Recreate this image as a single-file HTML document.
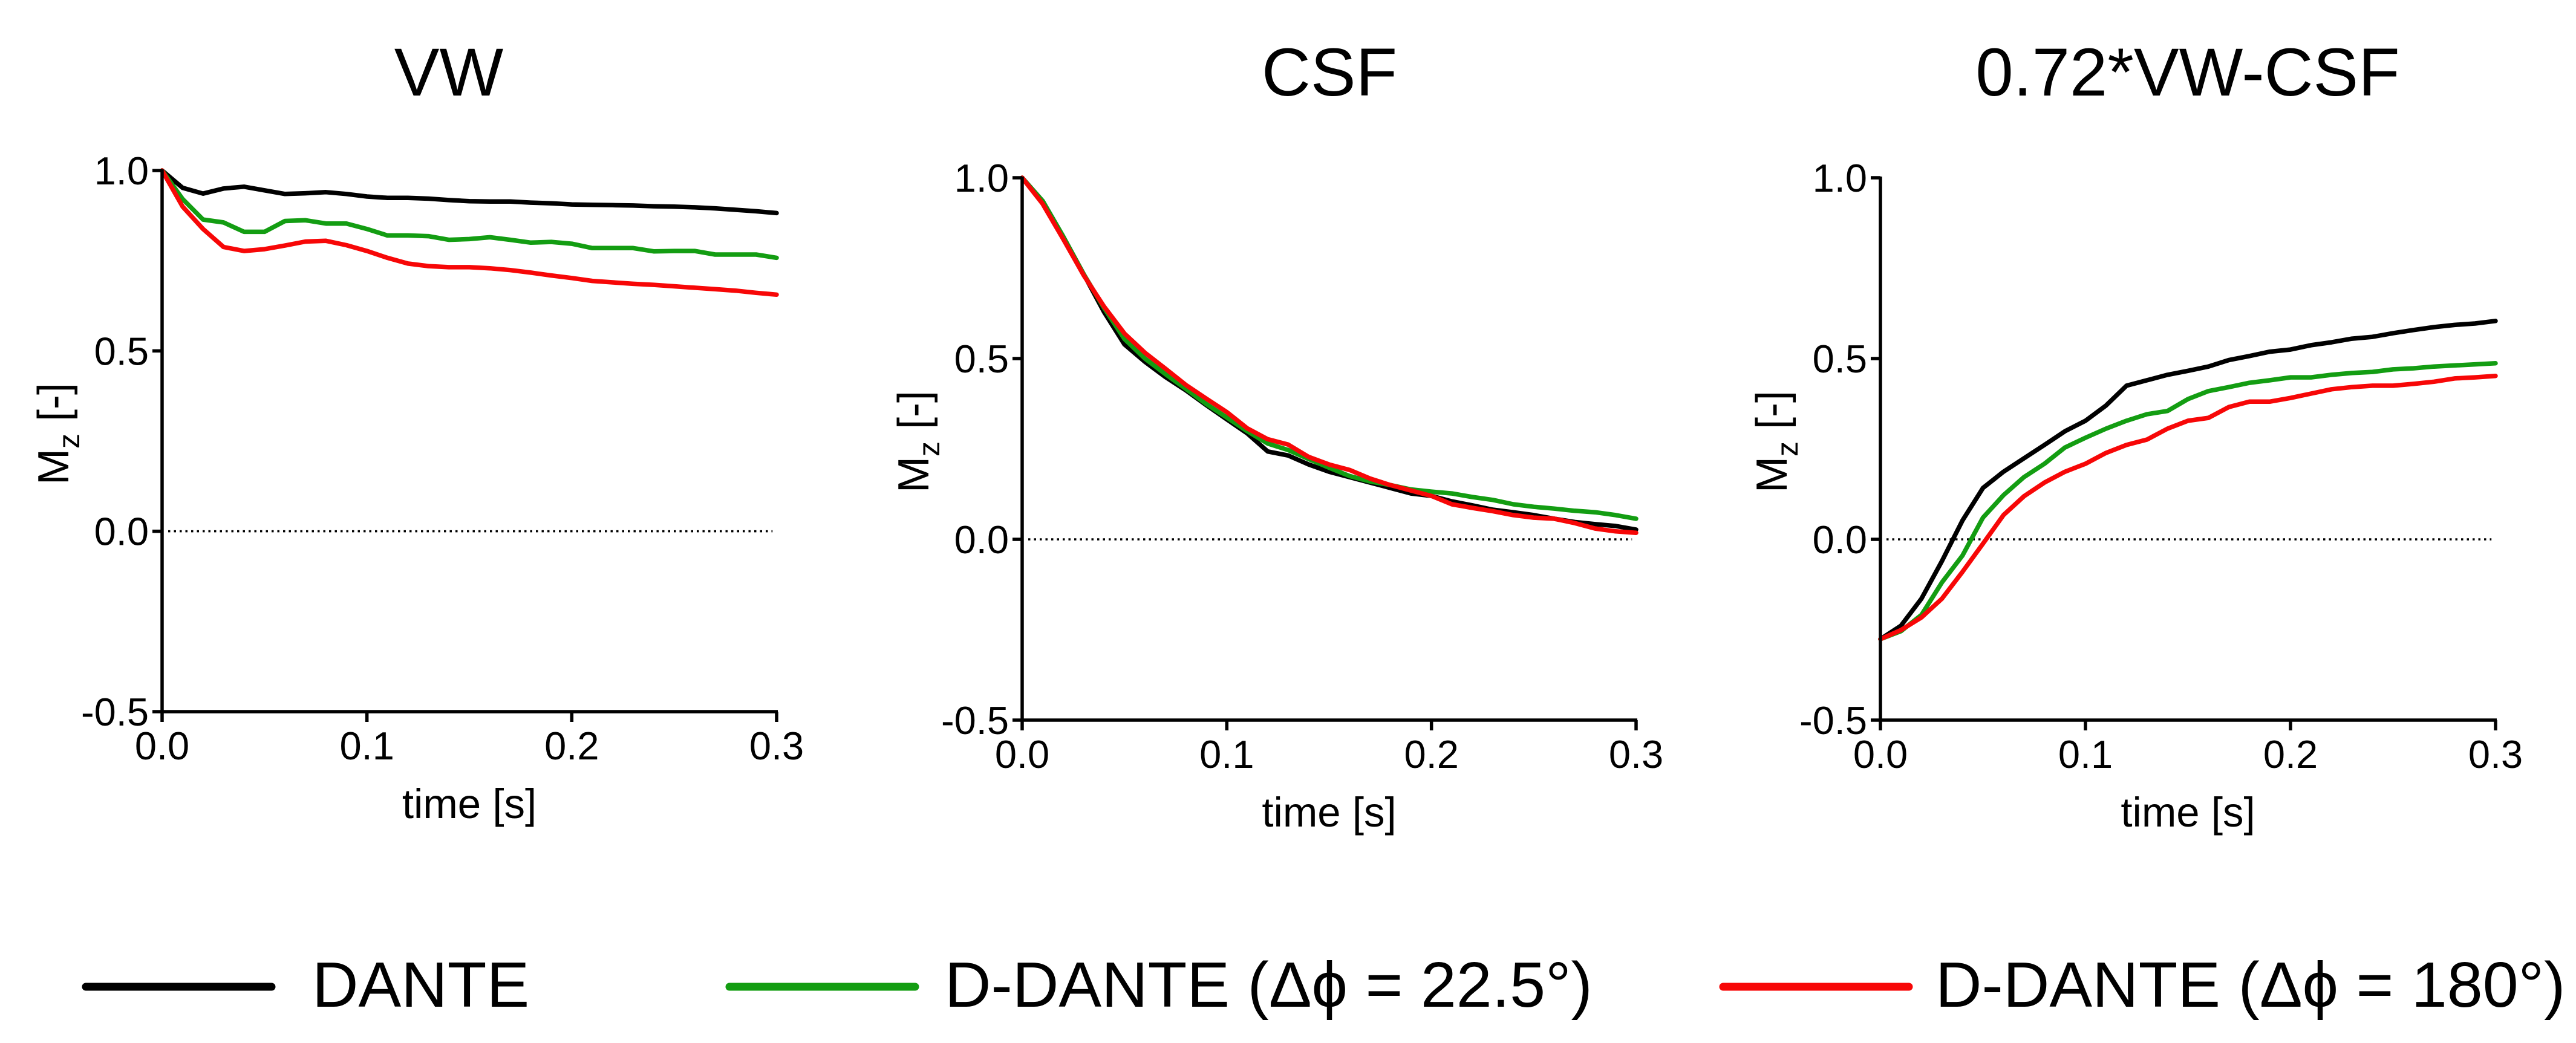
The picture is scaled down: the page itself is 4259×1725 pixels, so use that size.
<!DOCTYPE html>
<html><head><meta charset="utf-8">
<style>
html,body{margin:0;padding:0;background:#fff;}
svg{display:block;font-family:"Liberation Sans",Arial,sans-serif;}
</style></head>
<body>
<svg id="fig" width="4259" height="1725" viewBox="0 0 4259 1725" xmlns="http://www.w3.org/2000/svg">
<g id="panels"></g>
<g id="legend">
  <g>
    <line x1="142" y1="1632" x2="449" y2="1632" stroke="#000" stroke-width="13" stroke-linecap="round"/>
    <text x="516" y="1665" font-size="106">DANTE</text>
  </g>
  <g>
    <line x1="1206" y1="1632" x2="1513" y2="1632" stroke="#139d12" stroke-width="13" stroke-linecap="round"/>
    <text x="1562" y="1665" font-size="106">D-DANTE (Δϕ = 22.5°)</text>
  </g>
  <g>
    <line x1="2849" y1="1632" x2="3156" y2="1632" stroke="#f70707" stroke-width="13" stroke-linecap="round"/>
    <text x="3200" y="1665" font-size="106">D-DANTE (Δϕ = 180°)</text>
  </g>
</g>
</svg>
<script>
const times = [0,0.01,0.02,0.03,0.04,0.05,0.06,0.07,0.08,0.09,0.1,0.11,0.12,0.13,0.14,0.15,0.16,0.17,0.18,0.19,0.2,0.21,0.22,0.23,0.24,0.25,0.26,0.27,0.28,0.29,0.3];
const xTicks = [0,0.1,0.2,0.3];
const xTickLabels = ["0.0","0.1","0.2","0.3"];
const yTicks = [-0.5,0,0.5,1.0];
const yTickLabels = ["-0.5","0.0","0.5","1.0"];
const panelTitles = ["VW","CSF","0.72*VW-CSF"];
const seriesNames = ["DANTE","D-DANTE 22.5","D-DANTE 180"];

const vwDante = [1.0,0.952,0.936,0.95,0.955,0.945,0.935,0.937,0.94,0.935,0.928,0.924,0.924,0.922,0.918,0.915,0.914,0.914,0.911,0.909,0.906,0.905,0.904,0.903,0.901,0.9,0.898,0.895,0.891,0.887,0.882];
const vwD22 = [1.0,0.921,0.864,0.856,0.83,0.83,0.86,0.862,0.853,0.853,0.838,0.82,0.82,0.818,0.808,0.81,0.815,0.808,0.8,0.802,0.797,0.785,0.785,0.785,0.776,0.777,0.777,0.767,0.767,0.767,0.758];
const vwD180 = [1.0,0.9,0.838,0.788,0.777,0.782,0.792,0.803,0.805,0.793,0.777,0.758,0.742,0.735,0.732,0.732,0.729,0.724,0.717,0.709,0.702,0.694,0.69,0.686,0.683,0.679,0.675,0.671,0.667,0.661,0.656];

const csfDante = [1.0,0.936,0.838,0.734,0.629,0.539,0.491,0.449,0.412,0.371,0.332,0.293,0.243,0.232,0.207,0.187,0.172,0.157,0.142,0.127,0.12,0.105,0.094,0.082,0.075,0.067,0.057,0.048,0.042,0.037,0.027];
const csfD22 = [1.0,0.936,0.838,0.734,0.64,0.554,0.5,0.457,0.416,0.374,0.337,0.299,0.265,0.247,0.222,0.198,0.175,0.16,0.15,0.138,0.132,0.127,0.117,0.109,0.097,0.09,0.085,0.079,0.075,0.067,0.057];
const csfD180 = [1.0,0.928,0.831,0.731,0.644,0.569,0.516,0.472,0.427,0.389,0.352,0.307,0.277,0.262,0.228,0.207,0.192,0.168,0.15,0.135,0.12,0.097,0.087,0.078,0.067,0.06,0.057,0.045,0.03,0.022,0.018];

const diffDante = [-0.276,-0.239,-0.164,-0.06,0.052,0.142,0.187,0.224,0.261,0.299,0.328,0.37,0.425,0.44,0.455,0.466,0.478,0.496,0.507,0.519,0.525,0.537,0.545,0.555,0.56,0.57,0.579,0.587,0.593,0.597,0.604];
const diffD22 = [-0.276,-0.254,-0.209,-0.119,-0.045,0.06,0.122,0.172,0.209,0.254,0.281,0.306,0.328,0.346,0.355,0.388,0.41,0.421,0.433,0.44,0.448,0.448,0.455,0.46,0.463,0.47,0.473,0.478,0.481,0.484,0.487];
const diffD180 = [-0.276,-0.251,-0.216,-0.164,-0.09,-0.012,0.067,0.119,0.157,0.187,0.209,0.239,0.261,0.276,0.306,0.328,0.336,0.366,0.381,0.381,0.391,0.403,0.415,0.421,0.425,0.425,0.43,0.436,0.445,0.448,0.452];

const NS = "http://www.w3.org/2000/svg";
const colors = ["#000000","#139d12","#f70707"];
const panelsData = [[vwDante,vwD22,vwD180],[csfDante,csfD22,csfD180],[diffDante,diffD22,diffD180]];
const layouts = [
  {x0:268,x1:1284,yTop:282,yBot:1177,titleX:742},
  {x0:1690,x1:2705,yTop:294,yBot:1191,titleX:2198},
  {x0:3109,x1:4126,yTop:294,yBot:1191,titleX:3617}
];
function mk(tag, attrs, parent){
  const e=document.createElementNS(NS,tag);
  for(const k in attrs) e.setAttribute(k,attrs[k]);
  if(parent) parent.appendChild(e);
  return e;
}
const root=document.getElementById('panels');
layouts.forEach((L,pi)=>{
  const xs=v=>L.x0+(v-0)/(0.3-0)*(L.x1-L.x0);
  const ys=v=>L.yBot-(v+0.5)/1.5*(L.yBot-L.yTop);
  const g=mk('g',{},root);
  
  
  const t=mk('text',{x:L.titleX,y:158,'font-size':112,'text-anchor':'middle'},g);
  t.textContent=panelTitles[pi];
  
  
  const z=mk('line',{x1:L.x0+10,x2:xs(0.298),y1:ys(0),y2:ys(0),stroke:'#000','stroke-width':3.5,'stroke-dasharray':'3.5 6'},g);
  
  
  panelsData[pi].forEach((arr,si)=>{
    const d=arr.map((v,i)=>(i?'L':'M')+xs(times[i]).toFixed(1)+' '+ys(v).toFixed(1)).join(' ');
    const p=mk('path',{d:d,fill:'none',stroke:colors[si],'stroke-width':7.5,'stroke-linejoin':'round','stroke-linecap':'round'},g);
    
    
  });
  const ax=mk('g',{},g);
  
  
  mk('line',{x1:L.x0,x2:L.x0,y1:L.yTop-2,y2:L.yBot+2,stroke:'#000','stroke-width':5.5},ax);
  mk('line',{x1:L.x0-2,x2:L.x1+2,y1:L.yBot,y2:L.yBot,stroke:'#000','stroke-width':5.5},ax);
  yTicks.forEach((v,i)=>{
    const y=ys(v);
    mk('line',{x1:L.x0-16,x2:L.x0,y1:y,y2:y,stroke:'#000','stroke-width':5.5},ax);
    const tl=mk('text',{x:L.x0-22,y:y+23,'font-size':65,'text-anchor':'end'},ax);
    tl.textContent=yTickLabels[i];
    
    
  });
  xTicks.forEach((v,i)=>{
    const x=xs(v);
    mk('line',{x1:x,x2:x,y1:L.yBot,y2:L.yBot+17,stroke:'#000','stroke-width':5.5},ax);
    const tl=mk('text',{x:x,y:L.yBot+79,'font-size':65,'text-anchor':'middle'},ax);
    tl.textContent=xTickLabels[i];
    
    
  });
  const xt=mk('text',{x:(L.x0+L.x1)/2,y:L.yBot+176,'font-size':69,'text-anchor':'middle'},g);
  xt.textContent='time [s]';
  
  
  const cy=(L.yTop+L.yBot)/2-12;
  const yt=mk('text',{x:0,y:0,'font-size':72,'text-anchor':'middle',transform:'translate('+(L.x0-155)+','+cy+') rotate(-90)'},g);
  
  
  const t1=mk('tspan',{},yt); t1.textContent='M';
  const t2=mk('tspan',{'font-size':50,dy:18},yt); t2.textContent='z';
  const t3=mk('tspan',{dy:-18},yt); t3.textContent=' [-]';
});
</script>
</body></html>
